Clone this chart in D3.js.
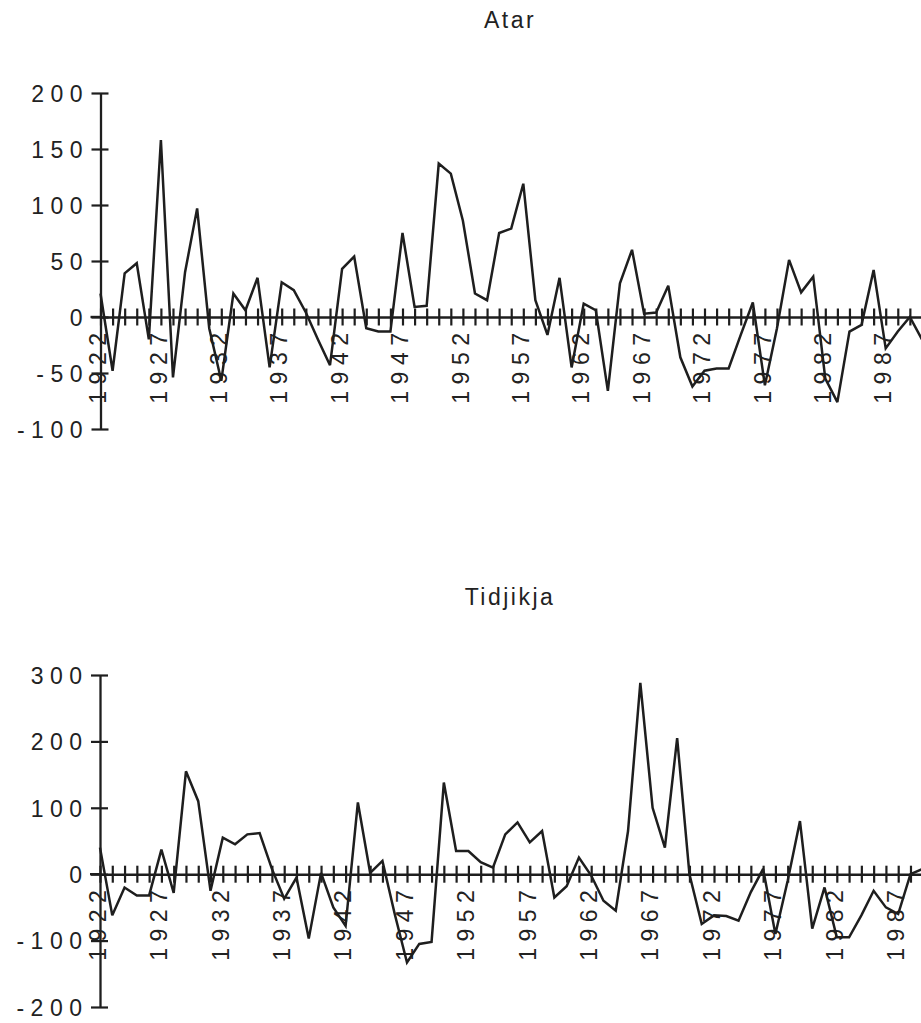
<!DOCTYPE html>
<html>
<head>
<meta charset="utf-8">
<script src="https://cdn.jsdelivr.net/npm/d3@7"></script>
<style>
  html, body { margin: 0; padding: 0; background: #ffffff; }
  svg { display: block; }
  text { font-family: "Liberation Sans", Arial, Helvetica, sans-serif; fill: #222; }
</style>
</head>
<body>
<svg id="chart" width="921" height="1023"></svg>
<script>
// ---- data ----
const years = d3.range(1922, 1991);
const atarValues = [21, -48, 39, 48, -20, 158, -54, 40, 97, -10,
  -57, 21, 6, 35, -45, 31, 24, 4, -20, -43,
  43, 54, -10, -13, -13, 75, 9, 10, 137, 128,
  86, 21, 15, 75, 79, 119, 15, -16, 35, -45,
  12, 6, -66, 30, 60, 3, 4, 28, -36, -62,
  -48, -46, -46, -16, 13, -61, -10, 51, 22, 36,
  -55, -76, -13, -7, 42, -28, -13, 0, -20];
const tidjikjaValues = [40, -62, -20, -32, -32, 37, -28, 155, 110, -25,
  55, 45, 60, 62, 8, -37, -5, -97, 2, -50,
  -78, 108, 2, 20, -60, -133, -105, -102, 138, 35,
  35, 18, 10, 60, 78, 48, 65, -35, -18, 25,
  -2, -40, -55, 65, 288, 100, 40, 205, 0, -75,
  -62, -63, -70, -27, 8, -90, -10, 80, -82, -20,
  -95, -95, -62, -25, -50, -60, 0, 8, 15];
const atarTicks = [200, 150, 100, 50, 0, -50, -100];
const tidjikjaTicks = [300, 200, 100, 0, -100, -200];
const yearLabels = [1922, 1927, 1932, 1937, 1942, 1947, 1952, 1957, 1962, 1967, 1972, 1977, 1982, 1987];
const titles = ["Atar", "Tidjikja"];

const svg = d3.select("#chart");
const ink = "#1e1e1e";
const LS = 6.5;   // letter spacing of tick labels
const FS = 23;

function panel(cfg) {
  const g = svg.append("g");
  const x = d3.scaleLinear().domain([1922, 1990]).range(cfg.xr);
  const y = d3.scaleLinear().domain(cfg.yd).range(cfg.yr);
  const x0 = cfg.xr[0];

  // title
  g.append("text").attr("x", 510).attr("y", cfg.titleY)
    .attr("text-anchor", "middle").attr("font-size", 23).attr("letter-spacing", 2.5)
    .text(cfg.title);

  // y axis
  const ya = g.append("g").attr("transform", `translate(${x0},0)`)
    .call(d3.axisLeft(y).tickValues(cfg.ticks).tickSizeOuter(0).tickSizeInner(8).tickFormat(d3.format("d")));
  ya.select(".domain").attr("stroke", ink).attr("stroke-width", 2.3);
  ya.selectAll(".tick line").attr("x1", 8).attr("x2", -9).attr("stroke", ink).attr("stroke-width", 2.2);
  ya.selectAll(".tick text").attr("x", -18 + LS).attr("dy", "0.36em")
    .attr("font-size", FS).attr("letter-spacing", LS).attr("fill", ink)
    .text(d => d < 0 ? "-" + Math.abs(d) : d);
  ya.attr("font-family", null);

  // x axis at zero
  const xa = g.append("g").attr("transform", `translate(0,${y(0)})`)
    .call(d3.axisBottom(x).tickValues(years).tickSizeOuter(0).tickSizeInner(8)
      .tickFormat(d => yearLabels.includes(d) ? d : ""));
  xa.select(".domain").attr("stroke", ink).attr("stroke-width", 2.4);
  xa.append("line").attr("x1", x0 - 10).attr("x2", x0).attr("y1", 0).attr("y2", 0)
    .attr("stroke", ink).attr("stroke-width", 2.4);
  xa.selectAll(".tick line").attr("y1", -8.5).attr("y2", 8.5).attr("stroke", ink).attr("stroke-width", 2.2);
  xa.selectAll(".tick text").attr("transform", "rotate(-90)")
    .attr("text-anchor", "end").attr("x", -16 + LS).attr("y", -3).attr("dy", "0.36em")
    .attr("font-size", FS).attr("letter-spacing", LS).attr("fill", ink);
  xa.attr("font-family", null);

  // data line
  const line = d3.line().x((d, i) => x(years[i])).y(d => y(d));
  g.append("path").datum(cfg.values).attr("d", line)
    .attr("fill", "none").attr("stroke", ink).attr("stroke-width", 2.5)
    .attr("stroke-linejoin", "miter").attr("stroke-miterlimit", 3);
}

panel({ title: titles[0], titleY: 28, xr: [100.5, 100.5 + 68 * 12.08], yd: [-100, 200], yr: [429, 93],
  ticks: atarTicks, values: atarValues });
panel({ title: titles[1], titleY: 605, xr: [100, 100 + 68 * 12.28], yd: [-200, 300], yr: [1007, 675],
  ticks: tidjikjaTicks, values: tidjikjaValues });
</script>
</body>
</html>
